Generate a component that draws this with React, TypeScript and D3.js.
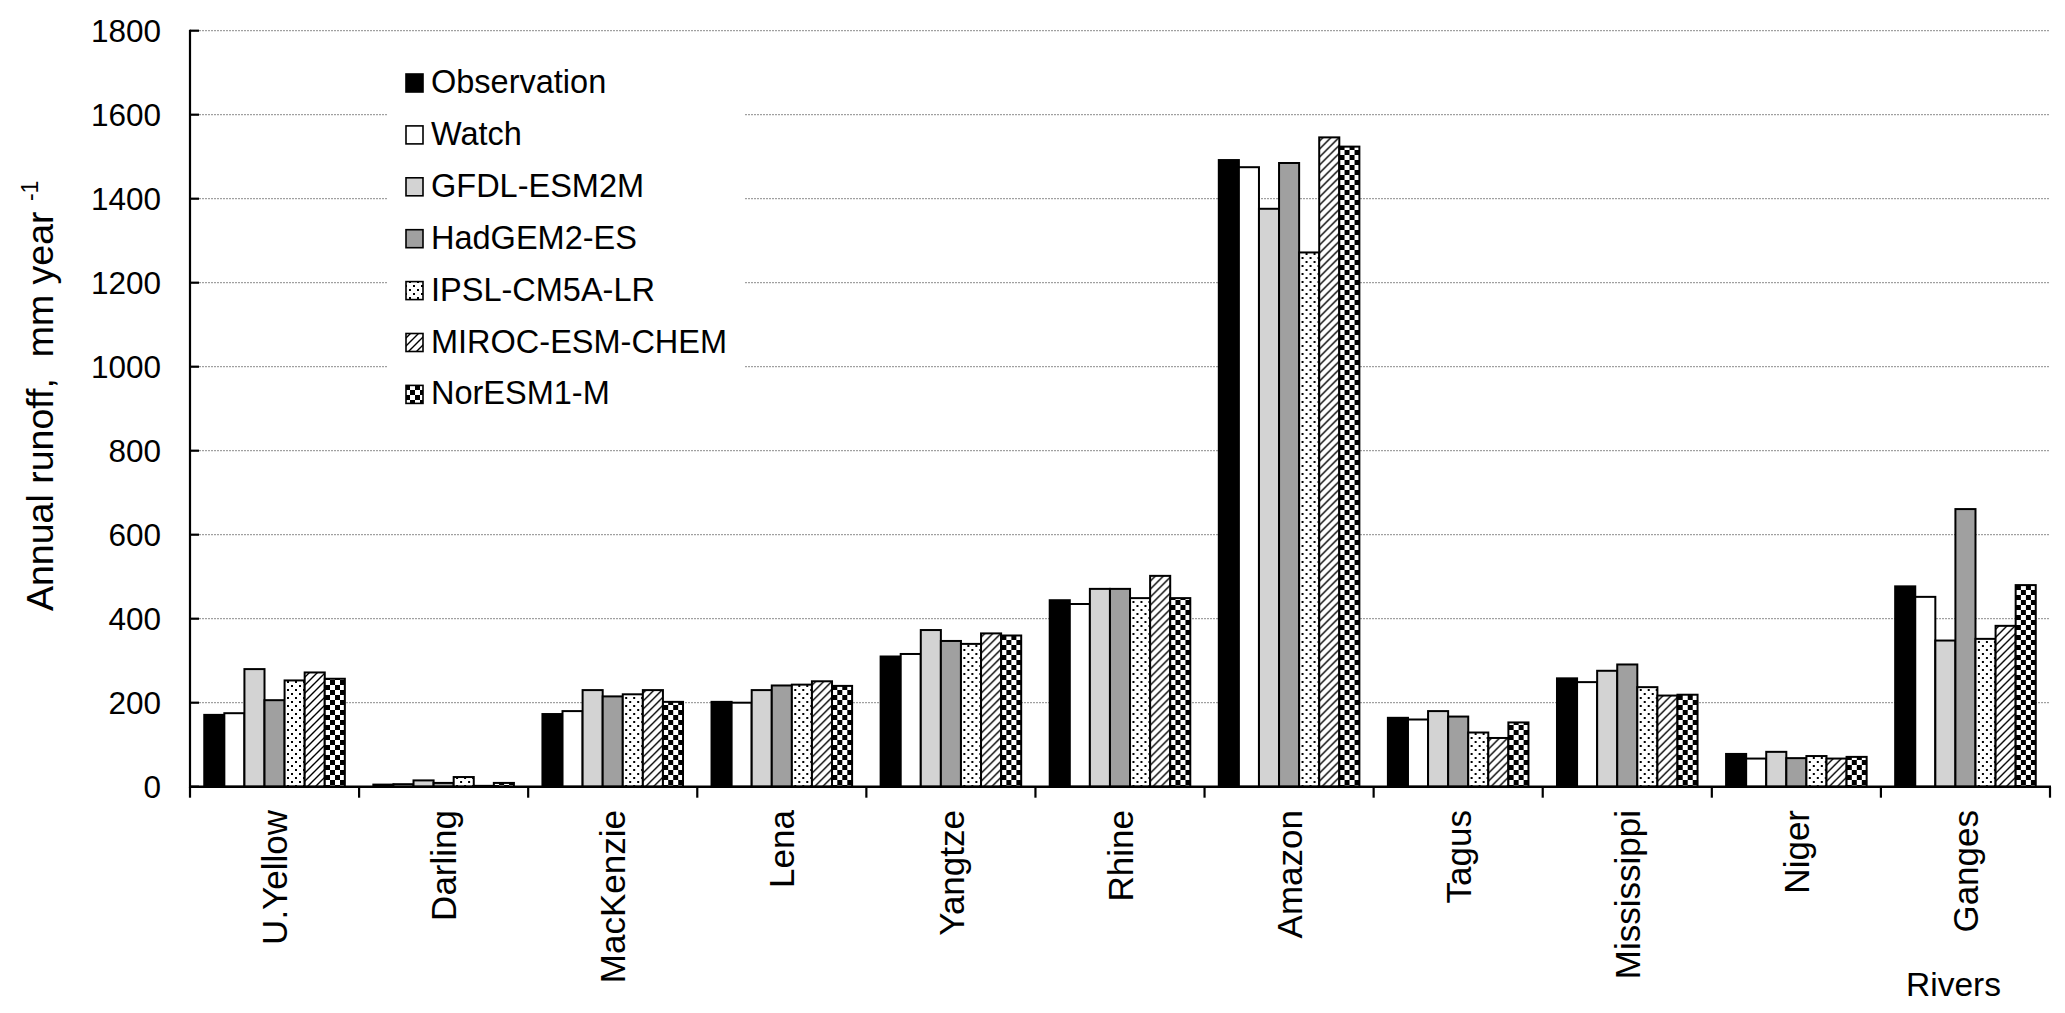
import React from "react";
import * as d3 from "d3";

const rivers = ["U.Yellow", "Darling", "MacKenzie", "Lena", "Yangtze", "Rhine", "Amazon", "Tagus", "Mississippi", "Niger", "Ganges"];
const seriesNames = ["Observation", "Watch", "GFDL-ESM2M", "HadGEM2-ES", "IPSL-CM5A-LR", "MIROC-ESM-CHEM", "NorESM1-M"];

const observation = [171, 5, 173, 202, 310, 444, 1492, 164, 258, 78, 477];
const watch = [175, 6, 180, 200, 316, 435, 1475, 160, 249, 67, 452];
const gfdl = [280, 15, 230, 230, 373, 471, 1376, 180, 276, 83, 348];
const hadgem = [206, 9, 215, 241, 347, 471, 1485, 167, 291, 68, 661];
const ipsl = [253, 23, 220, 243, 340, 449, 1272, 129, 237, 73, 352];
const miroc = [272, 2, 230, 251, 365, 502, 1546, 116, 217, 67, 383];
const noresm = [257, 9, 202, 240, 360, 449, 1524, 153, 219, 71, 480];

const seriesValues = [observation, watch, gfdl, hadgem, ipsl, miroc, noresm];
const yTicks = [0, 200, 400, 600, 800, 1000, 1200, 1400, 1600, 1800];

const fills = ["#000000", "#ffffff", "#d3d3d3", "#a0a0a0", "url(#dots)", "url(#hatch)", "url(#checker)"];

const W = 2065;
const H = 1013;
const left = 190;
const right = 2050;
const top = 30.7;
const bottom = 786.7;
const FONT = "'Liberation Sans', Arial, sans-serif";

export default function App() {
  const x = d3.scaleBand<string>().domain(rivers).range([left, right]).padding(0);
  const inner = d3
    .scaleBand<string>()
    .domain(seriesNames)
    .range([0, x.step()])
    .paddingInner(0)
    .paddingOuter(0.71);
  const y = d3.scaleLinear().domain([0, 1800]).range([bottom, top]);

  const boundaries = d3.range(rivers.length + 1).map((i) => left + i * x.step());

  const legendX = 406;
  const legendY0 = 93;
  const legendStep = 51.9;

  return (
    <svg
      width={W}
      height={H}
      viewBox={`0 0 ${W} ${H}`}
      style={{ position: "absolute", left: 0, top: 0, background: "#fff" }}
      fontFamily={FONT}
    >
      <defs>
        <pattern id="dots" width="8" height="8" patternUnits="userSpaceOnUse">
          <rect width="8" height="8" fill="#fff" />
          <rect x="1" y="1" width="2" height="2" fill="#000" />
          <rect x="5" y="5" width="2" height="2" fill="#000" />
        </pattern>
        <pattern id="hatch" width="8" height="8" patternUnits="userSpaceOnUse">
          <rect width="8" height="8" fill="#fff" />
          <path d="M-2,2 L2,-2 M0,8 L8,0 M6,10 L10,6" stroke="#000" strokeWidth="1.4" />
        </pattern>
        <pattern id="checker" width="10" height="10" patternUnits="userSpaceOnUse">
          <rect width="10" height="10" fill="#fff" />
          <rect x="0" y="0" width="5" height="5" fill="#000" />
          <rect x="5" y="5" width="5" height="5" fill="#000" />
        </pattern>
      </defs>

      <rect x={0} y={0} width={W} height={H} fill="#fff" />

      {/* gridlines */}
      {yTicks.filter((t) => t > 0).map((t) => (
        <line
          key={"g" + t}
          x1={left}
          x2={right}
          y1={y(t)}
          y2={y(t)}
          stroke="#8a8a8a"
          strokeWidth={1}
          strokeDasharray="2,1"
        />
      ))}

      {/* legend background */}
      <rect x={388} y={52} width={357} height={372} fill="#fff" />

      {/* bars */}
      {rivers.map((r, i) => (
        <g key={r} transform={`translate(${x(r)},0)`}>
          {seriesNames.map((s, j) => {
            const v = seriesValues[j][i];
            return (
              <rect
                key={s}
                x={inner(s)}
                y={y(v)}
                width={inner.bandwidth()}
                height={y(0) - y(v)}
                fill={fills[j]}
                stroke="#000"
                strokeWidth={2}
              />
            );
          })}
        </g>
      ))}

      {/* y axis */}
      <line x1={left} x2={left} y1={top - 1} y2={bottom + 1} stroke="#000" strokeWidth={2.2} />
      {yTicks.map((t) => (
        <g key={"t" + t}>
          <line x1={left} x2={left + 9} y1={y(t)} y2={y(t)} stroke="#000" strokeWidth={2.2} />
          <text x={161} y={y(t)} dy="0.36em" textAnchor="end" fontSize={31.5} fill="#000">
            {t}
          </text>
        </g>
      ))}

      {/* x axis */}
      <line x1={left - 1} x2={right + 1} y1={bottom} y2={bottom} stroke="#000" strokeWidth={2.4} />
      {boundaries.map((b, i) => (
        <line key={"b" + i} x1={b} x2={b} y1={bottom} y2={bottom + 11} stroke="#000" strokeWidth={2.2} />
      ))}
      {rivers.map((r) => (
        <text
          key={"l" + r}
          transform={`translate(${(x(r) as number) + x.step() / 2},810) rotate(-90)`}
          dy="0.36em"
          textAnchor="end"
          fontSize={35}
          fill="#000"
        >
          {r}
        </text>
      ))}

      {/* axis titles */}
      <text transform="translate(53,611) rotate(-90)" fontSize={37.5} fill="#000" xmlSpace="preserve">
        <tspan>{"Annual runoff,  mm year "}</tspan>
        <tspan fontSize={23} dy={-15}>
          -1
        </tspan>
      </text>
      <text x={1906} y={996} fontSize={33.5} fill="#000">
        Rivers
      </text>

      {/* legend */}
      {seriesNames.map((s, j) => (
        <g key={"lg" + s}>
          <rect
            x={legendX}
            y={legendY0 + j * legendStep - 19}
            width={17}
            height={18}
            fill={fills[j]}
            stroke="#000"
            strokeWidth={1.6}
          />
          <text x={431} y={legendY0 + j * legendStep} fontSize={32.5} fill="#000">
            {s}
          </text>
        </g>
      ))}
    </svg>
  );
}
